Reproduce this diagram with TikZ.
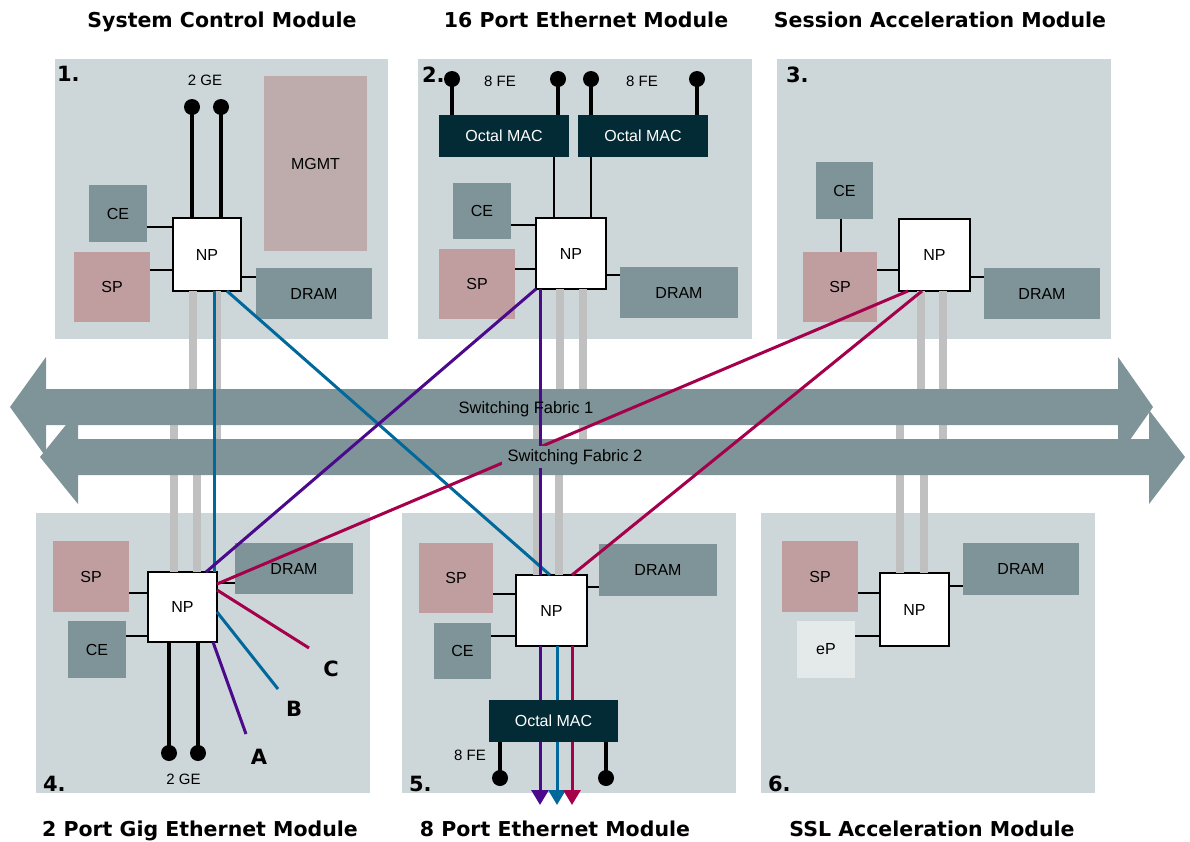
\documentclass[tikz,border=0pt]{standalone}
\usepackage{fontspec}
\setmainfont{Liberation Sans}
\newfontfamily\hdfont{DejaVu Sans}
\usetikzlibrary{arrows.meta}

\definecolor{panelc}{HTML}{CDD6D9}
\definecolor{slate}{HTML}{7F9498}
\definecolor{spc}{HTML}{C09EA0}
\definecolor{mgmtc}{HTML}{BEACAC}
\definecolor{macc}{HTML}{032B35}
\definecolor{epc}{HTML}{E4E9EA}
\definecolor{barc}{HTML}{C0C0C0}
\definecolor{lblue}{HTML}{00689A}
\definecolor{lpurple}{HTML}{4B0A8C}
\definecolor{lred}{HTML}{A5004B}

\begin{document}
\begin{tikzpicture}[x=1pt,y=-1pt,
  every node/.style={inner sep=0pt, outer sep=0pt},
  panel/.style={fill=panelc, minimum width=334, minimum height=280},
  blk/.style={font=\fontsize{16}{19}\selectfont},
  cebox/.style={blk, fill=slate},
  spbox/.style={blk, fill=spc},
  mgmtbox/.style={blk, fill=mgmtc},
  epbox/.style={blk, fill=epc},
  macbox/.style={blk, fill=macc, text=white, minimum width=130, minimum height=42},
  npbox/.style={blk, fill=white, draw=black, line width=1.8pt},
  link/.style={draw=black, line width=1.3pt},
  bar/.style={draw=barc, line width=8pt},
  fabric/.style={fill=slate},
  fablabel/.style={font=\fontsize{16.5}{19}\selectfont},
  dot/.style={circle, fill=black, minimum size=16},
  pinline/.style={draw=black, line width=4.5pt},
  pinlabel/.style={font=\fontsize{15}{17}\selectfont, anchor=base},
  title/.style={font=\hdfont\bfseries\fontsize{20.5}{24}\selectfont, anchor=base},
  modnum/.style={font=\hdfont\bfseries\fontsize{21}{24}\selectfont, anchor=base west},
  portlabel/.style={font=\hdfont\bfseries\fontsize{21}{24}\selectfont},
  flow/.style={line width=3pt},
  outflow/.style={line width=3pt, -{Triangle[width=17pt,length=15pt]}},
]
\useasboundingbox (0,0) rectangle (1190,841);

% ---------- module panels ----------
\node[panel, minimum width=333] (pan1) at (221.5,199) {};
\node[panel] (pan2) at (585,199) {};
\node[panel] (pan3) at (944,199) {};
\node[panel] (pan4) at (203,653) {};
\node[panel] (pan5) at (569,653) {};
\node[panel] (pan6) at (928,653) {};

% ---------- network processors ----------
\node[npbox, minimum width=68, minimum height=73] (np1) at (207,254.5) {NP};
\node[npbox, minimum width=70, minimum height=71] (np2) at (571,253.5) {NP};
\node[npbox, minimum width=71, minimum height=72] (np3) at (934.5,255) {NP};
\node[npbox, minimum width=69, minimum height=70] (np4) at (182.5,607) {NP};
\node[npbox, minimum width=71, minimum height=71] (np5) at (551.5,610.5) {NP};
\node[npbox, minimum width=69, minimum height=73] (np6) at (914.5,609.5) {NP};

% fabric reference points (centre lines of the two fabrics)
\coordinate (f1) at (580,407);
\coordinate (f2) at (610,457);

% ---------- backplane links to the fabrics ----------
\draw[bar] (np1.south -| 193,0) -- (f1 -| 193,0);
\draw[bar] (np1.south -| 217,0) -- (f2 -| 217,0);
\draw[bar] (np2.south -| 560,0) -- (f1 -| 560,0);
\draw[bar] (np2.south -| 583,0) -- (f2 -| 583,0);
\draw[bar] (np3.south -| 921,0) -- (f1 -| 921,0);
\draw[bar] (np3.south -| 943,0) -- (f2 -| 943,0);
\draw[bar] (np4.north -| 174,0) -- (f1 -| 174,0);
\draw[bar] (np4.north -| 197,0) -- (f2 -| 197,0);
\draw[bar] (np5.north -| 537,0) -- (f1 -| 537,0);
\draw[bar] (np5.north -| 559,0) -- (f2 -| 559,0);
\draw[bar] (np6.north -| 900,0) -- (f1 -| 900,0);
\draw[bar] (np6.north -| 924,0) -- (f2 -| 924,0);

% ---------- switching fabrics ----------
\path[fabric] (10,407) -- (46,357) -- (46,389) -- (1118,389) -- (1118,357)
  -- (1153,407) -- (1118,457) -- (1118,425) -- (46,425) -- (46,457) -- cycle;
\path[fabric] (40,457) -- (78,410) -- (78,439) -- (1149,439) -- (1149,410)
  -- (1185,457) -- (1149,504) -- (1149,475) -- (78,475) -- (78,504) -- cycle;

% ---------- module 1: system control ----------
\node[mgmtbox, minimum width=103, minimum height=175] (mgmt1) at (315.5,163.5) {MGMT};
\node[cebox, minimum width=58, minimum height=57] (ce1) at (118,213.5) {CE};
\node[spbox, minimum width=76, minimum height=70] (sp1) at (112,287) {SP};
\node[cebox, minimum width=116, minimum height=51] (dram1) at (314,293.5) {DRAM};
\draw[link] (ce1.east |- 0,227) -- (np1.west |- 0,227);
\draw[link] (sp1.east |- 0,270) -- (np1.west |- 0,270);
\draw[link] (np1.east |- 0,277) -- (dram1.west |- 0,277);
\node[dot] (g1a) at (192,107) {};
\node[dot] (g1b) at (221,107) {};
\draw[pinline] (g1a.center) -- (np1.north -| g1a);
\draw[pinline] (g1b.center) -- (np1.north -| g1b);
\node[pinlabel] (ge1) at (205,85) {2 GE};

% ---------- module 2: 16 port ethernet ----------
\node[macbox] (mac2a) at (504,136) {Octal MAC};
\node[macbox] (mac2b) at (643,136) {Octal MAC};
\node[cebox, minimum width=58, minimum height=56] (ce2) at (482,211) {CE};
\node[spbox, minimum width=76, minimum height=70] (sp2) at (477,284) {SP};
\node[cebox, minimum width=118, minimum height=51] (dram2) at (679,292.5) {DRAM};
\draw[link] (ce2.east |- 0,225) -- (np2.west |- 0,225);
\draw[link] (sp2.east |- 0,269) -- (np2.west |- 0,269);
\draw[link] (np2.east |- 0,275) -- (dram2.west |- 0,275);
\draw[link] (mac2a.south -| 554,0) -- (np2.north -| 554,0);
\draw[link] (mac2b.south -| 591,0) -- (np2.north -| 591,0);
\node[dot] (g2a) at (452,79) {};
\node[dot] (g2b) at (558,79) {};
\node[dot] (g2c) at (591,79) {};
\node[dot] (g2d) at (697,79) {};
\draw[pinline] (g2a.center) -- (mac2a.north -| g2a);
\draw[pinline] (g2b.center) -- (mac2a.north -| g2b);
\draw[pinline] (g2c.center) -- (mac2b.north -| g2c);
\draw[pinline] (g2d.center) -- (mac2b.north -| g2d);
\node[pinlabel] (fe2a) at (500,86) {8 FE};
\node[pinlabel] (fe2b) at (642,86) {8 FE};

% ---------- module 3: session acceleration ----------
\node[cebox, minimum width=57, minimum height=57] (ce3) at (844.5,190.5) {CE};
\node[spbox, minimum width=74, minimum height=70] (sp3) at (840,287) {SP};
\node[cebox, minimum width=116, minimum height=51] (dram3) at (1042,293.5) {DRAM};
\draw[link] (ce3.south -| 841,0) -- (sp3.north -| 841,0);
\draw[link] (sp3.east |- 0,270) -- (np3.west |- 0,270);
\draw[link] (np3.east |- 0,277) -- (dram3.west |- 0,277);

% ---------- module 4: 2 port gig ethernet ----------
\node[spbox, minimum width=76, minimum height=71] (sp4) at (91,576.5) {SP};
\node[cebox, minimum width=58, minimum height=57] (ce4) at (97,649.5) {CE};
\node[cebox, minimum width=118, minimum height=51] (dram4) at (294,568.5) {DRAM};
\draw[link] (sp4.east |- 0,593) -- (np4.west |- 0,593);
\draw[link] (ce4.east |- 0,636) -- (np4.west |- 0,636);
\draw[link] (np4.east |- 0,583) -- (dram4.west |- 0,583);
\node[dot] (g4a) at (169,753) {};
\node[dot] (g4b) at (198,753) {};
\draw[pinline] (g4a.center) -- (np4.south -| g4a);
\draw[pinline] (g4b.center) -- (np4.south -| g4b);
\node[pinlabel] (ge4) at (183.5,784) {2 GE};

% ---------- module 5: 8 port ethernet ----------
\node[spbox, minimum width=74, minimum height=70] (sp5) at (456,578) {SP};
\node[cebox, minimum width=57, minimum height=56] (ce5) at (462.5,651) {CE};
\node[cebox, minimum width=118, minimum height=52] (dram5) at (658,570) {DRAM};
\draw[link] (sp5.east |- 0,594) -- (np5.west |- 0,594);
\draw[link] (ce5.east |- 0,636) -- (np5.west |- 0,636);
\draw[link] (np5.east |- 0,587) -- (dram5.west |- 0,587);

% ---------- module 6: SSL acceleration ----------
\node[spbox, minimum width=76, minimum height=71] (sp6) at (820,576.5) {SP};
\node[epbox, minimum width=58, minimum height=57] (ep6) at (826,649.5) {eP};
\node[cebox, minimum width=116, minimum height=52] (dram6) at (1021,569) {DRAM};
\draw[link] (sp6.east |- 0,593) -- (np6.west |- 0,593);
\draw[link] (ep6.east |- 0,636) -- (np6.west |- 0,636);
\draw[link] (np6.east |- 0,586) -- (dram6.west |- 0,586);

% ---------- flows across the fabric ----------
\draw[flow, lblue] (np1.south -| 214,0) -- (np4.north -| 214,0);
\draw[flow, lblue] (np1.south -| 227,0) -- (np5.north -| 550,0);
\draw[flow, lpurple] (np2.south west) -- (np4.north -| 206,0);
\draw[flow, lpurple] (np2.south -| 540,0) -- (np5.north -| 540,0);
\draw[flow, lred] (np3.south -| 908,0) -- (np4.east |- 0,584);
\draw[flow, lred] (np3.south -| 922,0) -- (np5.north -| 572,0);

% ports leaving module 4
\coordinate (endA) at (246,734);
\coordinate (endB) at (278,689);
\coordinate (endC) at (309,648);
\draw[flow, lred] (np4.east |- 0,590) -- (endC);
\draw[flow, lblue] (np4.east |- 0,612) -- (endB);
\draw[flow, lpurple] (np4.south -| 213,0) -- (endA);
\node[portlabel] (lA) at (259,757) {A};
\node[portlabel] (lB) at (294,709) {B};
\node[portlabel] (lC) at (331,669) {C};

% ports leaving module 5, passing behind the MAC
\coordinate (out5a) at (540,805);
\coordinate (out5b) at (557,805);
\coordinate (out5c) at (572,805);
\draw[outflow, lpurple] (np5.south -| out5a) -- (out5a);
\draw[outflow, lblue] (np5.south -| out5b) -- (out5b);
\draw[outflow, lred] (np5.south -| out5c) -- (out5c);
\node[macbox, minimum width=129] (mac5) at (553.5,721) {Octal MAC};
\node[dot] (g5a) at (500,778) {};
\node[dot] (g5b) at (606,778) {};
\draw[pinline] (g5a.center) -- (mac5.south -| g5a);
\draw[pinline] (g5b.center) -- (mac5.south -| g5b);
\node[pinlabel] (fe5) at (470,760) {8 FE};

% fabric names
\node[fablabel] (f1lab) at (526,409) {Switching Fabric 1};
\node[fablabel, fill=slate, inner xsep=6pt, inner ysep=3pt] (f2lab) at (575,457) {Switching Fabric 2};

% ---------- module numbers ----------
\node[modnum] (n1) at (57,81) {1.};
\node[modnum] (n2) at (422,82) {2.};
\node[modnum] (n3) at (786,82) {3.};
\node[modnum] (n4) at (43,791) {4.};
\node[modnum] (n5) at (409,791) {5.};
\node[modnum] (n6) at (768,791) {6.};

% ---------- module titles ----------
\node[title] (t1) at (222,27) {System Control Module};
\node[title] (t2) at (586,27) {16 Port Ethernet Module};
\node[title] (t3) at (940,27) {Session Acceleration Module};
\node[title] (t4) at (200,836) {2 Port Gig Ethernet Module};
\node[title] (t5) at (555,836) {8 Port Ethernet Module};
\node[title] (t6) at (932,836) {SSL Acceleration Module};
\end{tikzpicture}
\end{document}
